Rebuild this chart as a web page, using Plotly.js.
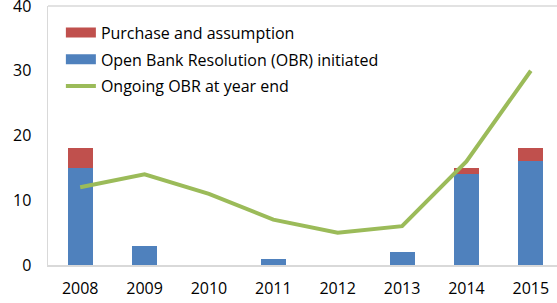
<!DOCTYPE html>
<html><head><meta charset="utf-8">
<script src="https://cdn.plot.ly/plotly-3.0.1.min.js"></script>
<style>html,body{margin:0;padding:0;overflow:hidden;background:#fff}</style>
</head><body><div id="chart"></div>
<script>
const years = ['2008','2009','2010','2011','2012','2013','2014','2015'];
const obrInitiated = [15, 3, 0, 1, 0, 2, 14, 16];
const purchaseAssumption = [3, 0, 0, 0, 0, 0, 1, 2];
const ongoingOBR = [12, 14, 11, 7, 5, 6, 16, 30];
const yTicks = [0, 10, 20, 30, 40];

const blue = '#4F81BD', red = '#C0504D', green = '#9BBB59';
const font = {family: 'Open Sans, sans-serif', size: 16, color: '#000'};

const traces = [
  {type:'bar', x: years, y: obrInitiated, marker:{color: blue}, showlegend:false, name:'Open Bank Resolution (OBR) initiated'},
  {type:'bar', x: years, y: purchaseAssumption, marker:{color: red}, showlegend:false, name:'Purchase and assumption'},
  {type:'scatter', mode:'lines', x: years, y: ongoingOBR, line:{color: green, width: 4}, showlegend:false, name:'Ongoing OBR at year end'},
  {type:'scatter', mode:'lines', x:[null], y:[null], line:{color: red, width: 10}, name:'Purchase and assumption', legendgroup:'a'},
  {type:'scatter', mode:'lines', x:[null], y:[null], line:{color: blue, width: 10}, name:'Open Bank Resolution (OBR) initiated', legendgroup:'b'},
  {type:'scatter', mode:'lines', x:[null], y:[null], line:{color: green, width: 4}, name:'Ongoing OBR at year end', legendgroup:'c'}
];

const layout = {
  width: 570, height: 303,
  margin: {l: 48, r: 7, t: 6, b: 37.5},
  barmode: 'stack', bargap: 0.61,
  paper_bgcolor: '#fff', plot_bgcolor: '#fff',
  font: font,
  showlegend: true,
  legend: {x: 0.025, y: 0.963, xanchor:'left', yanchor:'top', traceorder:'grouped', tracegroupgap: 3,
           font:{family:'Open Sans, sans-serif', size:16, color:'#000'}, bgcolor:'rgba(0,0,0,0)', itemwidth: 30},
  xaxis: {type:'category', showgrid:false, zeroline:false, showline:true, linecolor:'#D9D9D9', linewidth:1.5,
          ticks:'outside', ticklen: 8, tickcolor:'rgba(0,0,0,0)', tickfont: font, fixedrange:true},
  yaxis: {range:[0,40], tickvals: yTicks, ticktext: yTicks.map(String), ticklabeloverflow:'allow', showgrid:false, zeroline:false, showline:true, linecolor:'#D9D9D9', linewidth:1.5,
          ticks:'outside', ticklen: 12, tickcolor:'rgba(0,0,0,0)', tickfont: font, fixedrange:true},
  shapes: [{type:'line', xref:'paper', yref:'paper', x0:0, x1:1, y0:1, y1:1, line:{color:'#D9D9D9', width:1.5}}]
};

Plotly.newPlot('chart', traces, layout, {displayModeBar:false, staticPlot:true});
</script></body></html>
